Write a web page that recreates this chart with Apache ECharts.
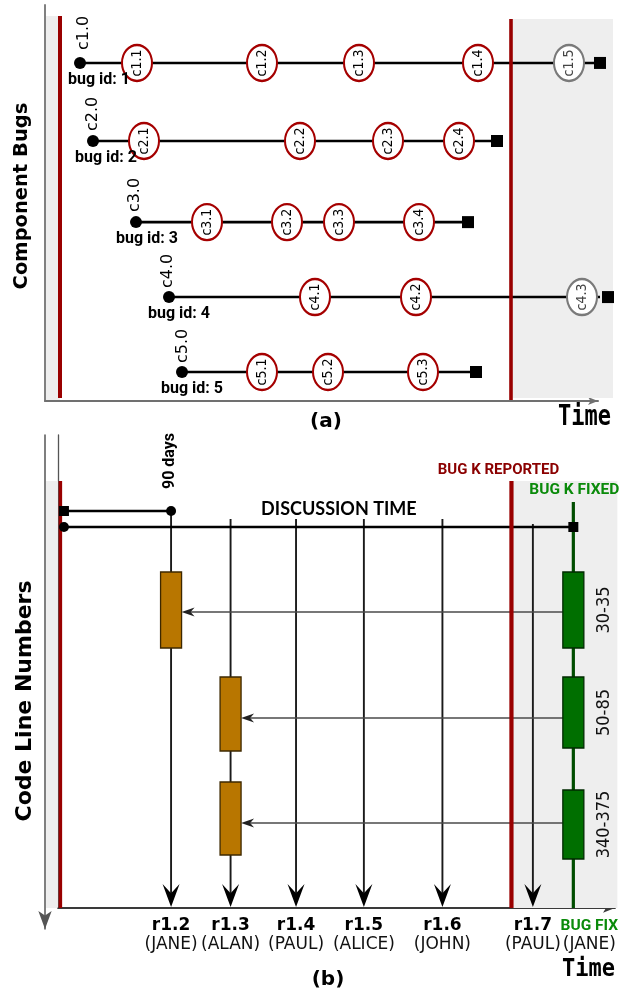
<!DOCTYPE html>
<html>
<head>
<meta charset="utf-8">
<script src="https://cdn.jsdelivr.net/npm/echarts@6.0.0/dist/echarts.min.js"></script>
<style>html,body{margin:0;padding:0;background:#fff}#c{width:638px;height:996px}</style>
</head>
<body>
<div id="c"></div>
<script>
// ================= DATA =================
// ---- Panel (a): component bug timelines (x: time units, y: lane) ----
const bugIds     = [1, 2, 3, 4, 5];
const bugVersion = ['c1.0', 'c2.0', 'c3.0', 'c4.0', 'c5.0'];
const bugLanes   = [1, 2.01, 3.06, 4.03, 5];
const bugStart   = [3.5, 4.8, 9.1, 12.4, 13.7];
const bugEnd     = [55.5, 45.2, 42.3, 56.3, 43.1];
const commitTimes = [
  [9.2, 21.7, 31.4, 43.3, 52.4],
  [9.9, 25.5, 34.3, 41.4],
  [16.2, 24.2, 29.4, 37.4],
  [27.0, 37.1, 53.7],
  [21.7, 28.3, 37.8]
];
const reportTimeA = 46.6;     // time of bug report (panel a)
const originTimeA = 1.5;
const laneTopA = [0.392, 0.431];   // [origin line, report line] top lane value
const laneBotA = [5.336, 5.362];
const shadeA = [[0.1, 1.5, 0.392, 5.362], [46.7, 56.8, 0.431, 5.336]];

// ---- Panel (b): revisions (x: days), y: code line position ----
const revNames   = ['r1.2', 'r1.3', 'r1.4', 'r1.5', 'r1.6', 'r1.7'];
const revAuthors = ['JANE', 'ALAN', 'PAUL', 'ALICE', 'JOHN', 'PAUL'];
const revDays    = [90, 140, 195, 252, 318, 394];
const revTop     = [7.6, 8.4, 8.4, 8.4, 8.4, 8.9];
const revBottom  = 47.2;
const fixDay = 428, fixAuthor = 'JANE', fixTop = 6.7;
const reportDay = 376, reportTop = 4.6;
const originDay = -3;
const windowDays = 90;
const discussionStart = 0;
const windowRow = 7.6, discussionRow = 9.2;
const codeBottom = 47.3;
const shadeB = [[-15, -5.3, 4.6, 47.3], [376.5, 465, 4.6, 47.3]];
const hunkLabels = ['30-35', '50-85', '340-375'];
const fixHunks   = [[13.7, 21.3], [24.2, 31.3], [35.5, 42.4]];
const blameRev   = [0, 1, 1];                 // index into revDays
const blameHunks = [[13.7, 21.3], [24.2, 31.6], [34.7, 42.0]];
const traceRows  = [17.7, 28.3, 38.8];
const noteTexts  = ['BUG K REPORTED', 'BUG K FIXED', 'DISCUSSION TIME', '90 days'];
const notePoints = [[reportDay, reportTop], [fixDay, fixTop], [231, discussionRow], [windowDays, windowRow]];

// ================= STYLE / BUILD =================
const SANS = '"DejaVu Sans", sans-serif';
const COND = '"DejaVu Sans Condensed", "DejaVu Sans", sans-serif';
const NARROW = 'Roboto, "DejaVu Sans Condensed", sans-serif';
const MONO = '"DejaVu Sans Mono", monospace';
const RED = '#990000';
const GREEN_TXT = '#0a8a0a';
const idLabelDx = [-12, -18, -20, -21, -21];
const verDx = [3.5, 0, -1.5, -1.5, 1];
const verDy = [13, 10, 10, 9, 9];

function shadeRender(params, api) {
  const p = api.coord([api.value(0), api.value(2)]);
  const q = api.coord([api.value(1), api.value(3)]);
  return { type: 'rect', shape: { x: Math.min(p[0], q[0]), y: Math.min(p[1], q[1]), width: Math.abs(q[0] - p[0]), height: Math.abs(q[1] - p[1]) }, style: { fill: '#eeeeee' } };
}
function rectRender(fill, stroke) {
  return function (params, api) {
    const a = api.coord([api.value(0), api.value(1)]);
    const b = api.coord([api.value(0), api.value(2)]);
    return { type: 'rect', shape: { x: a[0] - 10.5, y: Math.min(a[1], b[1]), width: 21, height: Math.abs(b[1] - a[1]) }, style: { fill: fill, stroke: stroke, lineWidth: 1.3 } };
  };
}
function arrowRender(o) {
  return function (params, api) {
    let a = api.coord([api.value(0), api.value(1)]);
    let b = api.coord([api.value(2), api.value(3)]);
    let dx = b[0] - a[0], dy = b[1] - a[1];
    const L = Math.sqrt(dx * dx + dy * dy) || 1;
    const ux = dx / L, uy = dy / L, nx = -uy, ny = ux;
    a = [a[0] + ux * o.startInset, a[1] + uy * o.startInset];
    b = [b[0] - ux * o.endInset, b[1] - uy * o.endInset];
    const bx = b[0] - ux * o.len, by = b[1] - uy * o.len;
    const mx = b[0] - ux * o.len * o.notch, my = b[1] - uy * o.len * o.notch;
    return { type: 'group', children: [
      { type: 'line', shape: { x1: a[0], y1: a[1], x2: mx, y2: my }, style: { stroke: o.color, lineWidth: o.width } },
      { type: 'polygon', shape: { points: [[b[0], b[1]], [bx + nx * o.half, by + ny * o.half], [mx, my], [bx - nx * o.half, by - ny * o.half]] }, style: { fill: o.headColor || o.color } }
    ] };
  };
}
function vline(xi, yi, x, y0, y1, color, width, z) {
  return { type: 'line', xAxisIndex: xi, yAxisIndex: yi, data: [[x, y0], [x, y1]], showSymbol: false, symbol: 'none', clip: false, silent: true, z: z || 3, lineStyle: { color: color, width: width } };
}
function hline(xi, yi, x0, x1, y, color, width) {
  return { type: 'line', xAxisIndex: xi, yAxisIndex: yi, data: [[x0, y], [x1, y]], showSymbol: false, symbol: 'none', clip: false, silent: true, lineStyle: { color: color, width: width } };
}
function pts(extra) {
  return Object.assign({ type: 'scatter', clip: false, silent: true, z: 6 }, extra);
}
const CLEAR = { color: 'rgba(0,0,0,0)', opacity: 1 };
const series = [];
// ---------- panel (a)
series.push({ type: 'custom', xAxisIndex: 0, yAxisIndex: 0, clip: false, silent: true, z: 1, data: shadeA, encode: { x: [0, 1], y: [2, 3] }, renderItem: shadeRender });
bugIds.forEach((id, i) => series.push(hline(0, 0, bugStart[i], bugEnd[i], bugLanes[i], '#000', 2.6)));
series.push(vline(0, 0, originTimeA, laneTopA[0], laneBotA[0], RED, 4));
series.push(vline(0, 0, reportTimeA, laneTopA[1], laneBotA[1], RED, 3.6));
series.push(pts({ xAxisIndex: 0, yAxisIndex: 0, symbol: 'circle', symbolSize: 12, itemStyle: { color: '#000', opacity: 1 },
  data: bugIds.map((id, i) => ({ name: 'bug id: ' + id, value: [bugStart[i], bugLanes[i]], label: { offset: [idLabelDx[i], -1] } })),
  label: { show: true, position: 'bottom', align: 'left', distance: 4, formatter: '{b}', fontFamily: NARROW, fontWeight: 'bold', fontSize: 16, color: '#000' } }));
series.push(pts({ xAxisIndex: 0, yAxisIndex: 0, symbol: 'circle', symbolSize: 1, itemStyle: CLEAR,
  data: bugIds.map((id, i) => ({ name: bugVersion[i], value: [bugStart[i], bugLanes[i]], label: { offset: [verDy[i], verDx[i]] } })),
  label: { show: true, position: 'inside', rotate: 90, align: 'left', verticalAlign: 'middle', formatter: '{b}', fontFamily: SANS, fontSize: 16, color: '#000' } }));
series.push(pts({ xAxisIndex: 0, yAxisIndex: 0, symbol: 'rect', symbolSize: 12, itemStyle: { color: '#000', opacity: 1 },
  data: bugIds.map((id, i) => [bugEnd[i], bugLanes[i]]) }));
const commitsRed = [], commitsGrey = [];
commitTimes.forEach((row, i) => row.forEach((t, j) => {
  const item = { name: 'c' + bugIds[i] + '.' + (j + 1), value: [t, bugLanes[i]] };
  if (t > reportTimeA) commitsGrey.push(item); else commitsRed.push(item);
}));
function commitSeries(data, border, txt) {
  return pts({ xAxisIndex: 0, yAxisIndex: 0, symbol: 'circle', symbolSize: [30, 36],
    itemStyle: { color: '#fff', borderColor: border, borderWidth: 2.2, opacity: 1 }, data: data,
    label: { show: true, position: 'inside', rotate: 90, formatter: '{b}', fontFamily: COND, fontSize: 14, color: txt } });
}
series.push(commitSeries(commitsRed, '#a50000', '#000'));
series.push(commitSeries(commitsGrey, '#7a7a7a', '#444'));

// ---------- panel (b)
series.push({ type: 'custom', xAxisIndex: 1, yAxisIndex: 1, clip: false, silent: true, z: 1, data: shadeB, encode: { x: [0, 1], y: [2, 3] }, renderItem: shadeRender });
series.push({ type: 'custom', xAxisIndex: 1, yAxisIndex: 1, clip: false, silent: true,
  data: revDays.map((d, i) => [d, revTop[i], d, revBottom]), encode: { x: [0, 2], y: [1, 3] },
  renderItem: arrowRender({ len: 23, half: 8.5, notch: 0.6, startInset: 0, endInset: 0, color: '#1a1a1a', width: 1.9, headColor: '#000' }) });
series.push(hline(1, 1, discussionStart, windowDays, windowRow, '#000', 2.4));
series.push(hline(1, 1, discussionStart, fixDay, discussionRow, '#000', 2.4));
series.push(vline(1, 1, fixDay, fixTop, codeBottom, '#004d00', 3.2));
series.push({ type: 'custom', xAxisIndex: 1, yAxisIndex: 1, clip: false, silent: true,
  data: traceRows.map((y, i) => [fixDay, y, revDays[blameRev[i]], y]), encode: { x: [0, 2], y: [1, 3] },
  renderItem: arrowRender({ len: 13, half: 4.5, notch: 0.7, startInset: 10.5, endInset: 10.5, color: '#4a4a4a', width: 1.6, headColor: '#222' }) });
series.push(vline(1, 1, originDay, shadeB[0][2], codeBottom, RED, 3.5, 4));
series.push(vline(1, 1, reportDay, reportTop, codeBottom, RED, 4.2, 4));
series.push({ type: 'custom', xAxisIndex: 1, yAxisIndex: 1, clip: false, silent: true, z: 5,
  data: blameHunks.map((h, i) => [revDays[blameRev[i]], h[0], h[1]]), encode: { x: 0, y: [1, 2] },
  renderItem: rectRender('#b87600', '#3d2800') });
series.push({ type: 'custom', xAxisIndex: 1, yAxisIndex: 1, clip: false, silent: true, z: 5,
  data: fixHunks.map(h => [fixDay, h[0], h[1]]), encode: { x: 0, y: [1, 2] },
  renderItem: rectRender('#006f00', '#002a00') });
series.push(pts({ xAxisIndex: 1, yAxisIndex: 1, symbol: 'rect', symbolSize: 10, itemStyle: { color: '#000', opacity: 1 },
  data: [[discussionStart, windowRow], [fixDay, discussionRow]] }));
series.push(pts({ xAxisIndex: 1, yAxisIndex: 1, symbol: 'circle', symbolSize: 10, itemStyle: { color: '#000', opacity: 1 },
  data: [[windowDays, windowRow], [discussionStart, discussionRow]] }));
// hunk range labels
series.push(pts({ xAxisIndex: 1, yAxisIndex: 1, symbol: 'circle', symbolSize: 1, itemStyle: CLEAR,
  data: fixHunks.map((h, i) => ({ name: hunkLabels[i], value: [fixDay, (h[0] + h[1]) / 2] })),
  label: { show: true, position: 'inside', rotate: 90, align: 'center', verticalAlign: 'middle', offset: [0, 31], formatter: '{b}', fontFamily: COND, fontSize: 18, color: '#111' } }));
// annotations
const noteStyles = [
  { position: 'top', distance: 3, offset: [-13, 0], color: '#8b0000', fontFamily: NARROW, fontWeight: 'bold', fontSize: 15 },
  { position: 'top', distance: 3, offset: [1, 0], color: GREEN_TXT, fontFamily: NARROW, fontWeight: 'bold', fontSize: 15.5 },
  { position: 'top', distance: 8, offset: [0, 0], color: '#000', fontFamily: 'Lato, sans-serif', fontWeight: 'bold', fontSize: 18 },
  { position: 'inside', rotate: 90, align: 'left', verticalAlign: 'middle', offset: [22, -1.5], color: '#000', fontFamily: NARROW, fontWeight: 'bold', fontSize: 16 }
];
series.push(pts({ xAxisIndex: 1, yAxisIndex: 1, symbol: 'circle', symbolSize: 1, itemStyle: CLEAR,
  data: noteTexts.map((t, i) => ({ name: t, value: notePoints[i], label: noteStyles[i] })),
  label: { show: true, formatter: '{b}' } }));
// bug fix axis label
series.push(pts({ xAxisIndex: 1, yAxisIndex: 1, symbol: 'circle', symbolSize: 1, itemStyle: CLEAR,
  data: [{ name: fixAuthor, value: [fixDay, codeBottom] }],
  label: { show: true, position: 'bottom', distance: 8, offset: [16, 0], formatter: p => '{g|BUG FIX}\n{p|(' + p.name + ')}',
    rich: { g: { fontFamily: NARROW, fontWeight: 'bold', fontSize: 15.5, lineHeight: 19, color: GREEN_TXT }, p: { fontFamily: SANS, fontSize: 17, lineHeight: 19, color: '#111' } } } }));

const hidden = { axisTick: { show: false }, axisLabel: { show: false }, splitLine: { show: false } };
const option = {
  animation: false,
  backgroundColor: '#fff',
  grid: [
    { left: 45, top: 5, width: 553, height: 396 },
    { left: 58, top: 435, width: 557, height: 473 },
    { left: 45, top: 435, width: 1, height: 494 }
  ],
  xAxis: [
    Object.assign({ gridIndex: 0, type: 'value', min: 0, max: 55.3, axisLine: { show: true, onZero: false, symbol: ['none', 'arrow'], symbolSize: [6, 10], lineStyle: { color: '#707070', width: 2 } } }, hidden),
    { gridIndex: 1, type: 'value', min: -5, max: 463, axisTick: { show: false }, splitLine: { show: false },
      axisLine: { show: true, onZero: false, symbol: ['none', 'arrow'], symbolSize: [7, 12], lineStyle: { color: '#3a3a3a', width: 1.8 } },
      axisLabel: { show: true, customValues: revDays, margin: 8,
        formatter: v => { const i = revDays.indexOf(v); return '{r|' + revNames[i] + '}\n{p|(' + revAuthors[i] + ')}'; },
        rich: { r: { fontFamily: SANS, fontWeight: 'bold', fontSize: 17, lineHeight: 19, color: '#000' }, p: { fontFamily: SANS, fontSize: 17, lineHeight: 19, color: '#111' } } } },
    Object.assign({ gridIndex: 2, type: 'value', show: false }, hidden)
  ],
  yAxis: [
    Object.assign({ gridIndex: 0, type: 'value', inverse: true, min: 0.25, max: 5.375, axisLine: { show: true, onZero: false, lineStyle: { color: '#808080', width: 2 } } }, hidden),
    Object.assign({ gridIndex: 1, type: 'value', inverse: true, min: 0, max: codeBottom, axisLine: { show: true, onZero: false, lineStyle: { color: '#555', width: 1.3 } } }, hidden),
    Object.assign({ gridIndex: 2, type: 'value', min: 0, max: 1, axisLine: { show: true, onZero: false, symbol: ['arrow', 'none'], symbolSize: [10, 18], lineStyle: { color: '#555', width: 1.5 } } }, hidden)
  ],
  graphic: [
    { type: 'text', x: 22, y: 196, rotation: Math.PI / 2, style: { text: 'Component Bugs', fontFamily: SANS, fontWeight: 'bold', fontSize: 19.5, fill: '#000', align: 'center', verticalAlign: 'middle', textAlign: 'center', textVerticalAlign: 'middle' } },
    { type: 'text', x: 25.5, y: 701, rotation: Math.PI / 2, style: { text: 'Code Line Numbers', fontFamily: SANS, fontWeight: 'bold', fontSize: 22, fill: '#000', align: 'center', verticalAlign: 'middle', textAlign: 'center', textVerticalAlign: 'middle' } },
    { type: 'text', x: 326, y: 422, style: { text: '(a)', fontFamily: SANS, fontWeight: 'bold', fontSize: 20, fill: '#000', align: 'center', verticalAlign: 'middle', textAlign: 'center', textVerticalAlign: 'middle' } },
    { type: 'text', x: 328, y: 980, style: { text: '(b)', fontFamily: SANS, fontWeight: 'bold', fontSize: 20, fill: '#000', align: 'center', verticalAlign: 'middle', textAlign: 'center', textVerticalAlign: 'middle' } },
    { type: 'text', x: 584.5, y: 418, scaleY: 1.25, style: { text: 'Time', fontFamily: MONO, fontWeight: 'bold', fontSize: 22, fill: '#000', align: 'center', verticalAlign: 'middle', textAlign: 'center', textVerticalAlign: 'middle' } },
    { type: 'text', x: 588.5, y: 969, scaleY: 1.15, style: { text: 'Time', fontFamily: MONO, fontWeight: 'bold', fontSize: 22, fill: '#000', align: 'center', verticalAlign: 'middle', textAlign: 'center', textVerticalAlign: 'middle' } }
  ],
  series: series
};
const chart = echarts.init(document.getElementById('c'));
chart.setOption(option);
</script>
</body>
</html>
